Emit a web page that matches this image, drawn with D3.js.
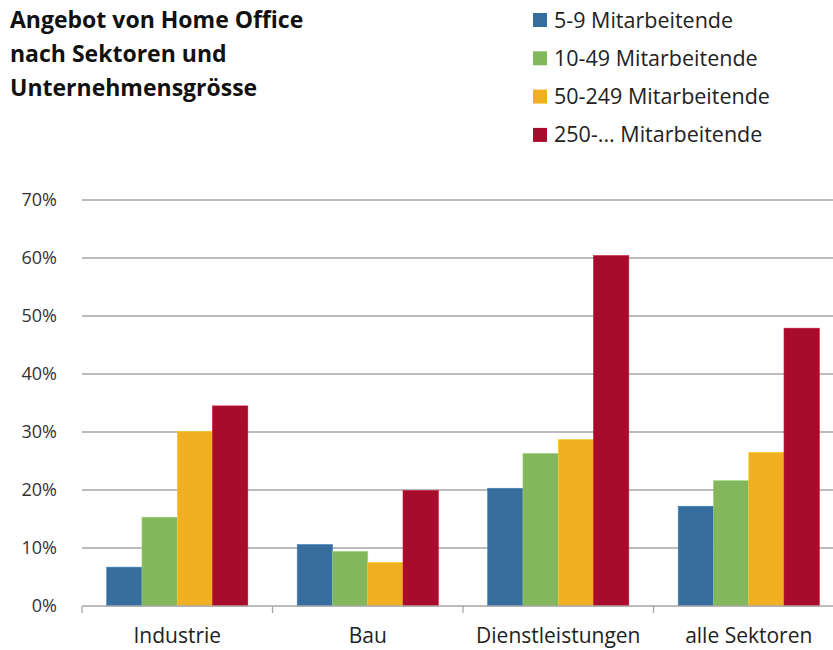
<!DOCTYPE html>
<html>
<head>
<meta charset="utf-8">
<script src="https://cdn.jsdelivr.net/npm/d3@7"></script>
<style>
  body { margin: 0; background: #fff; }
  text { font-family: "Open Sans", sans-serif; fill: #222; }
</style>
</head>
<body>
<div id="chart"></div>
<script>
// data
var sectors = ["Industrie", "Bau", "Dienstleistungen", "alle Sektoren"];
var sizes = ["5-9 Mitarbeitende", "10-49 Mitarbeitende", "50-249 Mitarbeitende", "250-... Mitarbeitende"];
var s5_9     = [6.7, 10.6, 20.3, 17.2];
var s10_49   = [15.3, 9.4, 26.3, 21.6];
var s50_249  = [30.1, 7.5, 28.7, 26.5];
var s250     = [34.5, 19.9, 60.4, 47.9];
var yTicks = [0, 10, 20, 30, 40, 50, 60, 70];
var colors = ["#366ea0", "#83b75d", "#f0b022", "#a80b2b"];
var titleLines = ["Angebot von Home Office", "nach Sektoren und", "Unternehmensgrösse"];

var series = [s5_9, s10_49, s50_249, s250];

var width = 833, height = 650;
var svg = d3.select("#chart").append("svg")
	.attr("width", width)
	.attr("height", height);

// plot area (right side runs off the canvas like in the original)
var x0 = d3.scaleBand().domain(sectors).range([82, 844]).paddingInner(0).paddingOuter(0);
var x1 = d3.scaleBand().domain(d3.range(sizes.length))
	.range([0, x0.bandwidth()]).paddingOuter(0.7).paddingInner(0);
var y = d3.scaleLinear().domain([0, 70]).range([606, 200]);

// gridlines
svg.append("g").selectAll("line")
	.data(yTicks.slice(1))
	.enter().append("line")
	.attr("x1", 82).attr("x2", width)
	.attr("y1", function(d) { return y(d); })
	.attr("y2", function(d) { return y(d); })
	.style("stroke", "#a6a6a6")
	.style("stroke-width", 1.3);

// y axis labels
var yAxis = d3.axisLeft(y).tickValues(yTicks)
	.tickFormat(function(d) { return d + "%"; })
	.tickSize(0).tickPadding(25);
var gy = svg.append("g").attr("transform", "translate(82,0)").call(yAxis);
gy.select(".domain").remove();
gy.selectAll("text").style("font-size", "18px").style("font-family", "'Open Sans', sans-serif").style("fill", "#333");

// bars
var groups = svg.append("g").selectAll("g")
	.data(sectors)
	.enter().append("g")
	.attr("transform", function(d) { return "translate(" + x0(d) + ",0)"; });

groups.selectAll("rect")
	.data(function(d, i) { return series.map(function(s, j) { return { k: j, v: s[i] }; }); })
	.enter().append("rect")
	.attr("x", function(d) { return x1(d.k); })
	.attr("width", x1.bandwidth())
	.attr("y", function(d) { return y(d.v); })
	.attr("height", function(d) { return y(0) - y(d.v); })
	.style("fill", function(d) { return colors[d.k]; })
	.style("stroke", function(d) { return d3.color(colors[d.k]).brighter(0.4); })
	.style("stroke-width", 0.6);

// x axis
var xAxis = d3.axisBottom(x0).tickSize(0).tickPadding(22);
var gx = svg.append("g").attr("transform", "translate(0,606)").call(xAxis);
gx.select(".domain").remove();
gx.selectAll("text").style("font-size", "21px").style("font-family", "'Open Sans', sans-serif").style("fill", "#222");

svg.append("line")
	.attr("x1", 82).attr("x2", width)
	.attr("y1", 606).attr("y2", 606)
	.style("stroke", "#a6a6a6").style("stroke-width", 1.3);

// category tick marks at band edges
var edges = sectors.map(function(d) { return x0(d); });
svg.append("g").selectAll("line")
	.data(edges)
	.enter().append("line")
	.attr("x1", function(d) { return d; }).attr("x2", function(d) { return d; })
	.attr("y1", 606).attr("y2", 613)
	.style("stroke", "#a6a6a6").style("stroke-width", 1.3);

// title
svg.append("g").selectAll("text")
	.data(titleLines)
	.enter().append("text")
	.attr("x", 10)
	.attr("y", function(d, i) { return 28 + i * 34; })
	.style("font-size", "23px")
	.style("font-weight", "bold")
	.style("fill", "#111")
	.text(function(d) { return d; });

// legend
var legend = svg.append("g").selectAll("g")
	.data(sizes)
	.enter().append("g")
	.attr("transform", function(d, i) { return "translate(533," + (13 + i * 38.3) + ")"; });

legend.append("rect")
	.attr("width", 14).attr("height", 14)
	.style("fill", function(d, i) { return colors[i]; });

legend.append("text")
	.attr("x", 21).attr("y", 14.5)
	.style("font-size", "21.5px")
	.style("fill", "#222")
	.text(function(d) { return d; });
</script>
</body>
</html>
